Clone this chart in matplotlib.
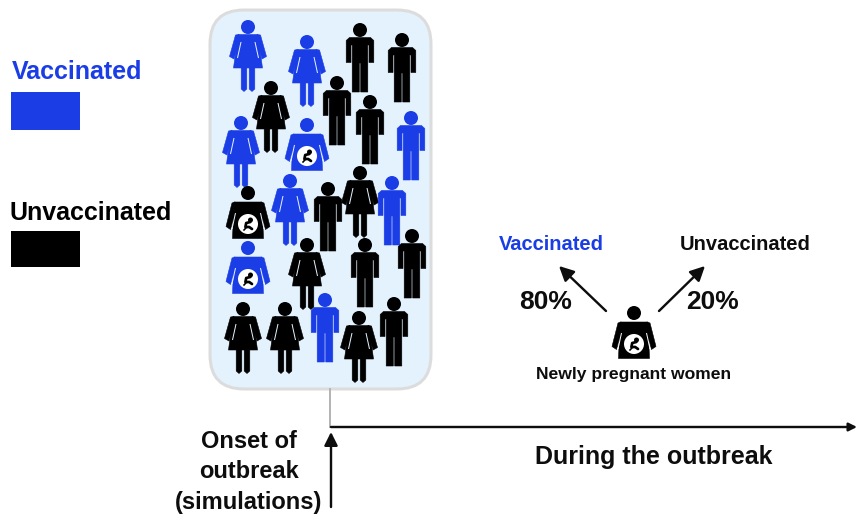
import matplotlib
matplotlib.use('Agg')
import matplotlib.pyplot as plt
from matplotlib.patches import Circle, Polygon, FancyBboxPatch, Rectangle

plt.rcParams['font.family'] = ['Liberation Sans', 'DejaVu Sans']

# head positions of each person in the panel, picture pixels
women_blue_x = [248, 307, 241, 290]
women_blue_y = [27, 42, 123, 181]
women_black_x = [271, 360, 307, 243, 285, 359]
women_black_y = [88, 173, 245, 309, 309, 318]
men_blue_x = [411, 392, 325]
men_blue_y = [118, 183, 300]
men_black_x = [360, 402, 337, 370, 328, 365, 412, 394]
men_black_y = [30, 40, 83, 102, 189, 245, 236, 304]
pregnant_blue_x = [307, 248]
pregnant_blue_y = [125, 248]
pregnant_black_x = [248]
pregnant_black_y = [193]
newly_x = [634]
newly_y = [313]

legend_labels = ['Vaccinated', 'Unvaccinated']
split_labels = ['80%', '20%']

BLUE = '#1a3de6'
BLACK = '#000000'
PANEL = '#e3f2fd'
INK = '#0d0d0d'
PX = 0.72  # points per pixel at dpi 100

fig = plt.figure(figsize=(8.57, 5.19), dpi=100)
ax = fig.add_axes([0, 0, 1, 1])
ax.set_xlim(0, 857)
ax.set_ylim(519, 0)
ax.axis('off')


def poly(pts, x, y, color, z=3):
    moved = [(x + a, y + b) for a, b in pts]
    ax.add_patch(Polygon(moved, closed=True, fc=color, ec=color, lw=0.4,
                         joinstyle='round', zorder=z))


def slit(x, y, x0, y0, x1, y1, bg):
    for s in (-1, 1):
        ax.plot([x + s * x0, x + s * x1], [y + y0, y + y1], color=bg,
                lw=1.0 * PX, solid_capstyle='butt', zorder=4)


def woman(x, y, color, bg=PANEL):
    ax.add_patch(Circle((x, y), 7, fc=color, ec='none', zorder=3))
    poly([(-10, 7.5), (10, 7.5), (14.5, 41), (-14.5, 41)], x, y, color)
    for s in (-1, 1):
        poly([(s * 9, 7.5), (s * 12.5, 8), (s * 18.5, 29.5), (s * 14, 32), (s * 9, 14)],
             x, y, color)
        poly([(s * 1.2, 40), (s * 6.8, 40), (s * 6.8, 62), (s * 4, 64.5), (s * 1.2, 62)],
             x, y, color)
    slit(x, y, 7, 15, 10.5, 31, bg)


def man(x, y, color, bg=PANEL):
    ax.add_patch(Circle((x, y), 7, fc=color, ec='none', zorder=3))
    poly([(-10.5, 7.5), (10.5, 7.5), (13.8, 10.5), (13.8, 32.5), (9, 32.5), (9, 15),
          (7.8, 15), (7.8, 62), (0.7, 62), (0.7, 33), (-0.7, 33), (-0.7, 62),
          (-7.8, 62), (-7.8, 15), (-9, 15), (-9, 32.5), (-13.8, 32.5), (-13.8, 10.5)],
         x, y, color)


def pregnant(x, y, color, bg=PANEL):
    ax.add_patch(Circle((x, y), 7, fc=color, ec='none', zorder=3))
    poly([(-14, 9), (14, 9), (15.5, 45.5), (-15.5, 45.5)], x, y, color)
    for s in (-1, 1):
        poly([(s * 13, 9), (s * 16, 10), (s * 22, 33.5), (s * 17.5, 36.5), (s * 13, 20)],
             x, y, color)
    slit(x, y, 12.5, 20, 16, 36, bg)
    ax.add_patch(Circle((x, y + 31), 10, fc='white', ec='none', zorder=4))
    ax.add_patch(Circle((x + 2.5, y + 27), 2.5, fc=BLACK, ec='none', zorder=5))
    ax.plot([x + 2.3, x - 1.8, x - 2.6, x + 1.2, x + 4],
            [y + 29, y + 30, y + 34, y + 34, y + 36],
            color=BLACK, lw=2.7 * PX, solid_capstyle='round', zorder=5)
    ax.plot([x - 4, x - 1.2], [y + 37, y + 34], color=BLACK, lw=1.6 * PX, zorder=5)


# panel
ax.add_patch(FancyBboxPatch((210, 10), 221, 379,
                            boxstyle='round,pad=0,rounding_size=34',
                            fc=PANEL, ec='#dcdcdc', lw=3 * PX, zorder=1))

for x, y in zip(women_blue_x, women_blue_y):
    woman(x, y, BLUE)
for x, y in zip(women_black_x, women_black_y):
    woman(x, y, BLACK)
for x, y in zip(men_blue_x, men_blue_y):
    man(x, y, BLUE)
for x, y in zip(men_black_x, men_black_y):
    man(x, y, BLACK)
for x, y in zip(pregnant_blue_x, pregnant_blue_y):
    pregnant(x, y, BLUE)
for x, y in zip(pregnant_black_x, pregnant_black_y):
    pregnant(x, y, BLACK)
for x, y in zip(newly_x, newly_y):
    pregnant(x, y, BLACK, bg='white')

# legend
ax.text(12, 72, legend_labels[0], color=BLUE, fontsize=18, fontweight='bold',
        va='center', ha='left')
ax.add_patch(Rectangle((11, 92), 69, 38, fc=BLUE, ec='none'))
ax.text(10, 213, legend_labels[1], color=BLACK, fontsize=18, fontweight='bold',
        va='center', ha='left')
ax.add_patch(Rectangle((11, 231), 69, 36, fc=BLACK, ec='none'))

# newly pregnant split
ax.text(551, 244, legend_labels[0], color=BLUE, fontsize=14.5, fontweight='bold',
        va='center', ha='center')
ax.text(745, 244, legend_labels[1], color=INK, fontsize=14.5, fontweight='bold',
        va='center', ha='center')
ax.text(546, 302, split_labels[0], color=INK, fontsize=19, fontweight='bold',
        va='center', ha='center')
ax.text(713, 302, split_labels[1], color=INK, fontsize=19, fontweight='bold',
        va='center', ha='center')
ax.text(634, 375, 'Newly pregnant women', color=INK, fontsize=12.6, fontweight='bold',
        va='center', ha='center')

arrow = dict(arrowstyle='-|>,head_length=0.8,head_width=0.4', color=INK,
             lw=2.4 * PX, shrinkA=0, shrinkB=0, mutation_scale=11)
small_arrow = dict(arrow, mutation_scale=6)
up_arrow = dict(arrow, mutation_scale=10)
ax.annotate('', xy=(559, 266), xytext=(606, 311), arrowprops=arrow)
ax.annotate('', xy=(705, 266), xytext=(659, 311), arrowprops=arrow)

# timeline
ax.plot([330, 330], [389, 427], color='#b5b5b5', lw=2 * PX, zorder=1)
ax.annotate('', xy=(857, 427), xytext=(331, 427), arrowprops=small_arrow)
ax.annotate('', xy=(331, 432), xytext=(331, 507), arrowprops=up_arrow)
for label, y in zip(['Onset of', 'outbreak', '(simulations)'], [441, 472, 502]):
    ax.text(249, y, label, color=INK, fontsize=17, fontweight='bold',
            va='center', ha='center')
ax.text(654, 457, 'During the outbreak', color=INK, fontsize=18, fontweight='bold',
        va='center', ha='center')

fig.savefig('out.png', dpi=100, facecolor='white')
